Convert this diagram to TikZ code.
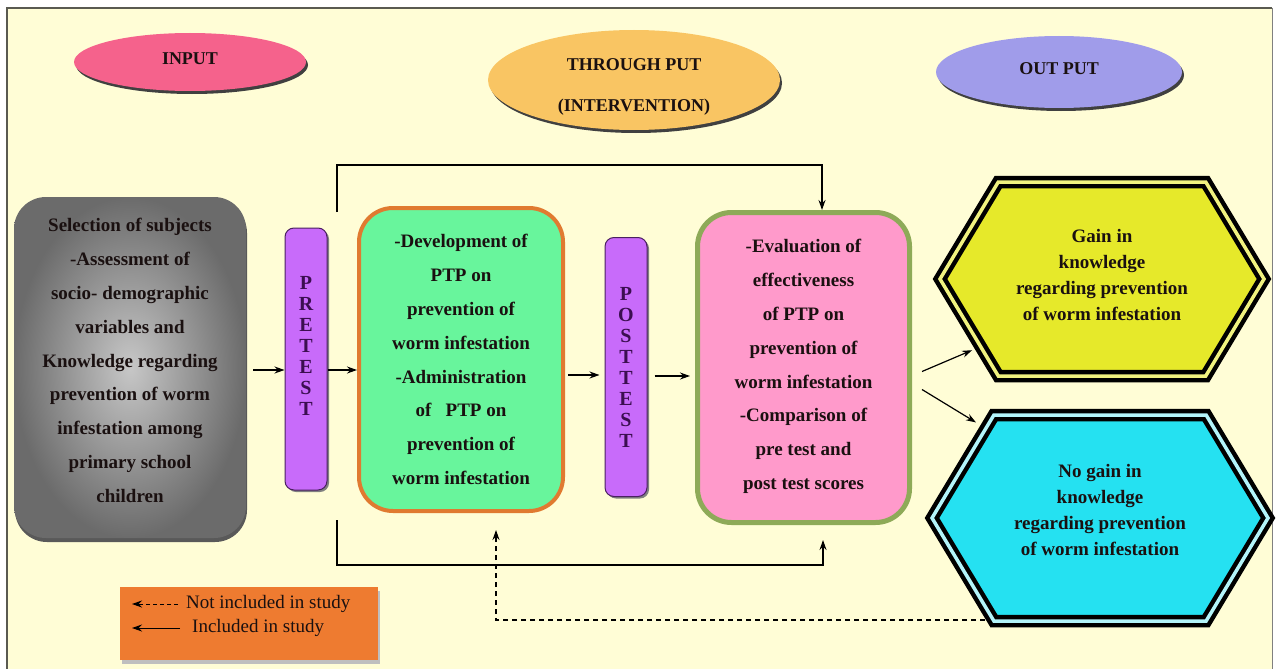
\documentclass[tikz,border=0pt]{standalone}
\usepackage{fontspec}
\setmainfont{Liberation Serif}
\usetikzlibrary{shapes.geometric}
\usetikzlibrary{shapes.symbols}
\usetikzlibrary{arrows.meta}
\usetikzlibrary{shadows}
\usetikzlibrary{positioning}

\definecolor{bgc}{HTML}{FFFDD6}
\definecolor{framec}{HTML}{5A5A50}
\definecolor{inpink}{HTML}{F5628C}
\definecolor{thrc}{HTML}{F9C563}
\definecolor{outc}{HTML}{A09CEA}
\definecolor{barfill}{HTML}{C86BFA}
\definecolor{barline}{HTML}{4A2060}
\definecolor{bartxt}{HTML}{3B0E50}
\definecolor{greenf}{HTML}{68F59C}
\definecolor{orangeb}{HTML}{E07A30}
\definecolor{pinkf}{HTML}{FF9ACB}
\definecolor{greenb}{HTML}{8EAA58}
\definecolor{yelf}{HTML}{E6E92A}
\definecolor{cyanf}{HTML}{25E1F1}
\definecolor{legc}{HTML}{EE7B30}
\definecolor{txtc}{HTML}{1A1010}

\begin{document}
\begin{tikzpicture}[x=1pt,y=-1pt,
  headell/.style={ellipse, inner sep=0pt, align=center, text=txtc,
    font=\bfseries\fontsize{18}{22}\selectfont,
    drop shadow={shadow xshift=2pt,shadow yshift=-3pt,fill=black!75,opacity=1}},
  bigbox/.style={rectangle, rounded corners=32pt, align=center, text=txtc,
    font=\bfseries\fontsize{19}{33.8}\selectfont},
  testbar/.style={rectangle, rounded corners=9pt, draw=barline, line width=1pt,
    fill=barfill, align=center, text=bartxt, minimum width=42pt,
    font=\bfseries\fontsize{20}{21}\selectfont,
    drop shadow={shadow xshift=2pt,shadow yshift=-2pt,fill=black!50,opacity=1}},
  outhex/.style={signal, signal to=west and east, signal pointer angle=118,
    draw=black, line width=4.5pt, double distance=3.5pt, align=center,
    text=txtc, font=\bfseries\fontsize{19}{26}\selectfont},
  legtxt/.style={anchor=west, text=txtc, inner sep=0pt,
    font=\fontsize{19}{24}\selectfont},
  arr/.style={-{Stealth[length=10pt,width=7pt]}, line width=1.2pt}
]
\useasboundingbox (0,0) rectangle (1276,669);
\fill[white] (0,0) rectangle (1276,669);
\fill[bgc] (7,8) rectangle (1272,669);
\draw[framec, line width=2.5pt] (6,8) -- (1272,8);
\draw[framec, line width=1.5pt] (7,8) -- (7,669);
\draw[gray, line width=0.8pt] (1272,8) -- (1272,669);

\node[headell, fill=inpink, minimum width=232pt, minimum height=58pt, text depth=6pt] (inp) at (190,62) {INPUT};
\node[headell, fill=thrc, minimum width=292pt, minimum height=100pt, text height=66pt] (thr) at (634,80)
  {THROUGH PUT\\[19pt](INTERVENTION)};
\node[headell, fill=outc, minimum width=246pt, minimum height=72pt, text depth=6pt] (outp) at (1059,72) {OUT PUT};

\node[bigbox, minimum width=232pt, minimum height=341pt, text depth=14pt,
  inner color=black!22, outer color=black!58,
  drop shadow={shadow xshift=1pt,shadow yshift=-4pt,fill=black!65,opacity=1}] (subj) at (130,367.5)
  {Selection of subjects\\-Assessment of\\socio- demographic\\variables and\\Knowledge regarding\\prevention of worm\\infestation among\\primary school\\children};

\node[testbar, minimum height=262pt, text depth=26pt] (pre) at (306,359) {P\\R\\E\\T\\E\\S\\T};

\node[bigbox, draw=orangeb, line width=4pt, fill=greenf, minimum width=204pt,
  minimum height=303pt, rounded corners=34pt] (dev) at (461,359.5)
  {-Development of\\PTP on\\prevention of\\worm infestation\\-Administration\\of \ \ PTP on\\prevention of\\worm infestation};

\node[testbar, minimum height=259pt] (post) at (626,367) {P\\O\\S\\T\\T\\E\\S\\T};

\node[bigbox, draw=greenb, line width=5pt, fill=pinkf, minimum width=212pt,
  minimum height=310pt, rounded corners=34pt, text depth=6pt] (eval) at (803.5,367.5)
  {-Evaluation of\\effectiveness\\of PTP on\\prevention of\\worm infestation\\-Comparison of\\pre test and\\post test scores};

\node[outhex, fill=yelf, double=yelf!60!white, minimum width=324pt, minimum height=194pt, text depth=8pt] (gain) at (1102,279)
  {Gain in\\knowledge\\regarding prevention\\of worm infestation};
\node[outhex, fill=cyanf, double=cyanf!35!white, minimum width=336pt, minimum height=206pt, text depth=16pt] (nogain) at (1100,518)
  {No gain in\\knowledge\\regarding prevention\\of worm infestation};

\node[rectangle, fill=legc, minimum width=258pt, minimum height=73pt,
  drop shadow={shadow xshift=2pt,shadow yshift=-4pt,fill=black!25,opacity=1}] (leg) at (249,623.5) {};
\node[legtxt] (nl) at (186,604) {Not included in study};
\node[legtxt] (il) at (192,628) {Included in study};

\coordinate (topstart) at (337,212);
\coordinate (botstart) at (337,520);
\coordinate (dashend) at (985,620);

\draw[arr, shorten <=7pt] (subj.east |- 0,370) -- (pre.west |- 0,370);
\draw[arr] (pre.east |- 0,370) -- (dev.west |- 0,370);
\draw[arr, shorten <=3pt, shorten >=5pt] (dev.east |- 0,375) -- (post.west |- 0,375);
\draw[arr, shorten <=7pt, shorten >=5pt] (post.east |- 0,376) -- (eval.west |- 0,376);
\draw[arr] (topstart) -- (337,165) -| ([xshift=18.5pt]eval.north);
\draw[arr, shorten >=15pt] (botstart) -- (337,565) -| ([xshift=19.5pt]eval.south);
\draw[arr, dashed, dash pattern=on 5pt off 4pt] (dashend) -| ([xshift=35pt,yshift=-17pt]dev.south);
\draw[arr, shorten >=7pt] ([shift={(10pt,-4pt)}]eval.east) -- (gain.209);
\draw[arr, shorten >=9pt] ([shift={(10pt,-22pt)}]eval.east) -- (nogain.142);

\draw[arr, dashed, dash pattern=on 4pt off 3pt, line width=1pt] ([xshift=-8pt]nl.west) -- ([xshift=-54pt]nl.west);
\draw[arr, line width=1pt] ([xshift=-12pt]il.west) -- ([xshift=-60pt]il.west);
\end{tikzpicture}
\end{document}
